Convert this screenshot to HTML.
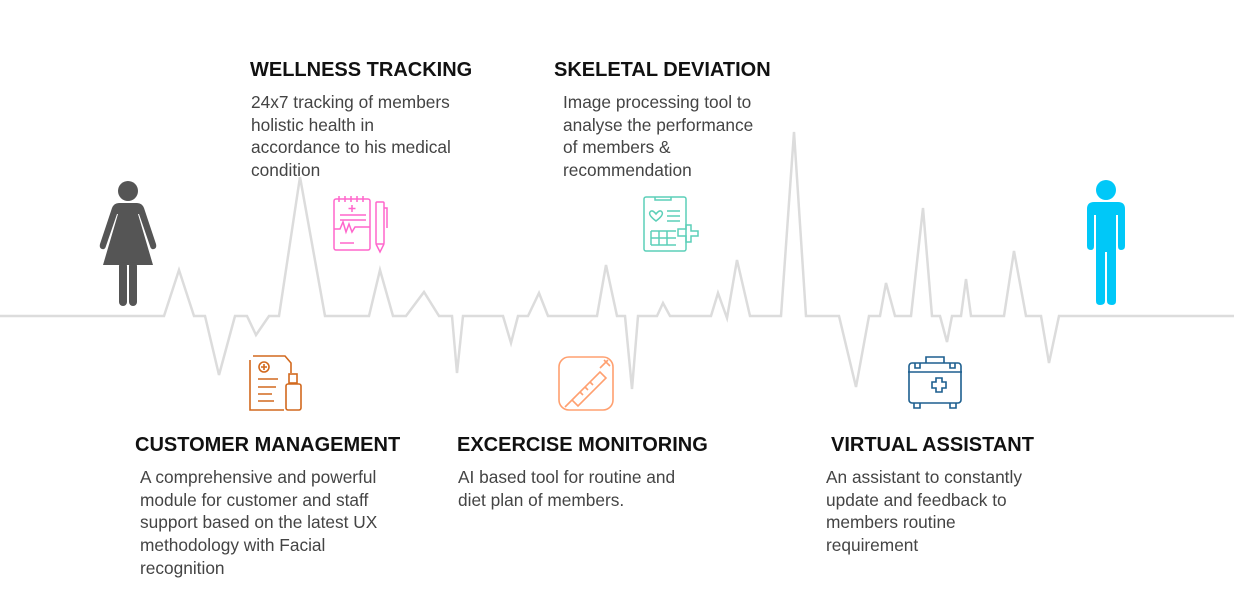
<!DOCTYPE html>
<html><head><style>
body{margin:0;width:1234px;height:591px;background:#fff;position:relative;overflow:hidden;font-family:"Liberation Sans",sans-serif}
.t{position:absolute;font-weight:bold;font-size:20px;color:#111;white-space:nowrap;line-height:24px}
.b{position:absolute;font-size:17.3px;color:#444;line-height:22.7px;white-space:nowrap}
svg{position:absolute;left:0;top:0}
</style></head><body>
<svg width="1234" height="591">
<polyline fill="none" stroke="#dcdcdc" stroke-width="2.5" stroke-linejoin="miter" points="0,316 164,316 179,270 194,316 205,316 219,375 235,316 247,316 256,335 269,316 279,316 300,177 325,316 369,316 380,270 393,316 406,316 424,292 439,316 452,316 457,373 463,316 503,316 511,343 518,316 528,316 539,293 548,316 597,316 606,265 617,316 625,316 632,389 638,316 657,316 663,303 670,316 711,316 718,293 727,318 737,260 750,316 781,316 794,132 806,316 839,316 856,387 869,316 880,316 886,283 895,316 911,316 923,208 932,316 940,316 947,342 952,316 961,316 966,279 971,316 1004,316 1014,251 1026,316 1041,316 1049,363 1059,316 1234,316"/>
<!-- woman -->
<g fill="#555">
<circle cx="128" cy="191" r="10"/>
<path d="M119,203 h18 q5,0 7,5 l12,36 q1,4 -2,5 q-3,1 -4,-3 l-11,-32 l-1,0 l15,51 h-50 l15,-51 l-1,0 l-11,32 q-1,4 -4,3 q-3,-1 -2,-5 l12,-36 q2,-5 7,-5z"/>
<rect x="119" y="262" width="8" height="44" rx="4"/>
<rect x="129" y="262" width="8" height="44" rx="4"/>
</g>
<!-- man -->
<g fill="#00c8f8">
<circle cx="1106" cy="190" r="10"/>
<path d="M1094,202 h24 q7,0 7,7 v37 q0,4 -4,4 q-3,0 -3,-4 v-31 h-2 v86 q0,4 -4,4 q-5,0 -5,-4 v-49 h-2 v49 q0,4 -5,4 q-4,0 -4,-4 v-86 h-2 v31 q0,4 -3,4 q-4,0 -4,-4 v-37 q0,-7 7,-7z"/>
</g>
<!-- pink clipboard -->
<g fill="none" stroke="#ff66cc" stroke-width="1.5">
<rect x="334" y="199" width="36" height="51" rx="2"/>
<path d="M339,196 v6 M345,196 v6 M351,196 v6 M357,196 v6 M363,196 v6 M352,205 v7 M348.5,208.5 h7 M340,215 h26 M340,220 h26 M334,229 h6 l3,-7 l3,10 l3,-8 l3,8 l3,-5 h15 M340,243 h14"/>
<rect x="376" y="202" width="8" height="42" rx="1"/><path d="M376,244 l4,8 l4,-8 M384,208 h3 v20"/>
</g>
<!-- orange docs -->
<g fill="none" stroke="#d2691e" stroke-width="1.6">
<path d="M250,360 v50 h34 M253,356 h32 l6,7 v10"/><circle cx="264" cy="367" r="5"/><path d="M264,364 v6 M261,367 h6 M258,379 h20 M258,387 h18 M258,394 h14 M258,401 h16"/>
<rect x="286" y="384" width="15" height="26" rx="2"/><rect x="289" y="374" width="8" height="9"/>
</g>
<!-- teal clipboard -->
<g fill="none" stroke="#5ccfb8" stroke-width="1.5">
<rect x="644" y="197" width="42" height="54" rx="2"/><path d="M655,197 v3 h16 v-3 M667,211 h13 M667,216 h13 M667,221 h13 M651,231 h25 M651,238 h25 M651,245 h25 M651,231 v14 M659,231 v14 M667,231 v14"/>
<path d="M656,214 q-4,-5 -6,-2 q-2,3 6,9 q8,-6 6,-9 q-2,-3 -6,2z"/>
<path d="M678,229 h8 v-4 h5 v6 h7 v5 h-7 v6 h-5 v-6 h-8z"/>
</g>
<!-- syringe -->
<g fill="none" stroke="#ffa070" stroke-width="1.6">
<rect x="559" y="357" width="54" height="53" rx="10"/>
<path d="M565,407 l10,-10 M572,400 l28,-28 l6,6 l-28,28z M600,368 l8,-8 M604,360 l6,6 M580,392 l3,3 M585,387 l3,3 M590,382 l3,3"/>
</g>
<!-- kit -->
<g fill="none" stroke="#1d5f8f" stroke-width="1.6">
<rect x="909" y="363" width="52" height="40" rx="3"/><path d="M908,372 h54 M926,363 v-6 h18 v6 M915,363 v5 h5 v-5 M950,363 v5 h5 v-5 M914,403 v5 h6 v-5 M950,403 v5 h6 v-5"/>
<path d="M932,382 h4 v-4 h6 v4 h4 v6 h-4 v4 h-6 v-4 h-4z"/>
</g>
</svg>
<div class="t" style="left:250px;top:58px">WELLNESS TRACKING</div>
<div class="b" style="left:251px;top:91px">24x7 tracking of members<br>holistic health in<br>accordance to his medical<br>condition</div>
<div class="t" style="left:554px;top:58px">SKELETAL DEVIATION</div>
<div class="b" style="left:563px;top:91px">Image processing tool to<br>analyse the performance<br>of members &amp;<br>recommendation</div>
<div class="t" style="left:135px;top:433px">CUSTOMER MANAGEMENT</div>
<div class="b" style="left:140px;top:466px">A comprehensive and powerful<br>module for customer and staff<br>support based on the latest UX<br>methodology with Facial<br>recognition</div>
<div class="t" style="left:457px;top:433px">EXCERCISE MONITORING</div>
<div class="b" style="left:458px;top:466px">AI based tool for routine and<br>diet plan of members.</div>
<div class="t" style="left:831px;top:433px">VIRTUAL ASSISTANT</div>
<div class="b" style="left:826px;top:466px">An assistant to constantly<br>update and feedback to<br>members routine<br>requirement</div>
</body></html>
